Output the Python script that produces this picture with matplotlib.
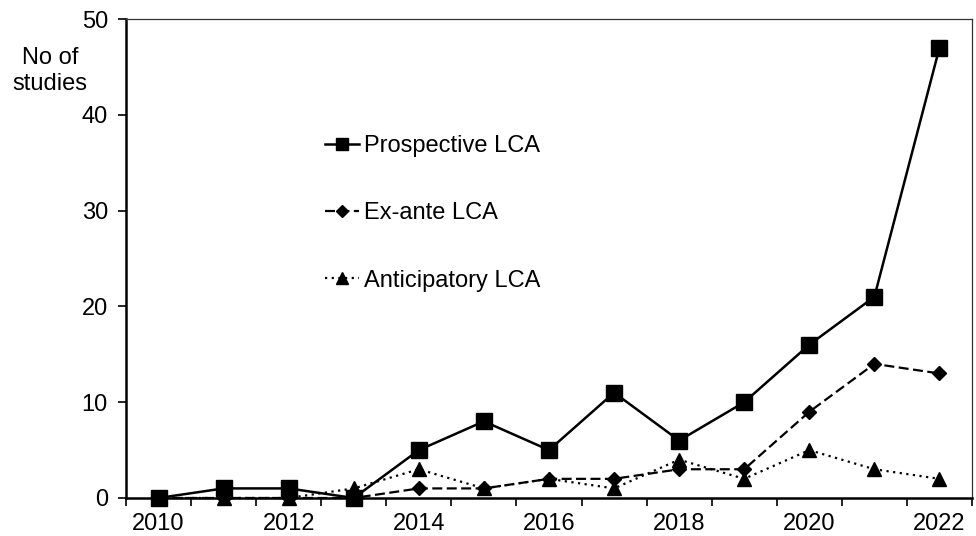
import matplotlib.pyplot as plt
import numpy as np

plt.rcParams['font.family'] = ['Liberation Sans', 'DejaVu Sans']

years = [2010, 2011, 2012, 2013, 2014, 2015, 2016, 2017, 2018, 2019, 2020, 2021, 2022]
prospective = [0, 1, 1, 0, 5, 8, 5, 11, 6, 10, 16, 21, 47]
ex_ante = [0, 0, 0, 0, 1, 1, 2, 2, 3, 3, 9, 14, 13]
anticipatory = [0, 0, 0, 1, 3, 1, 2, 1, 4, 2, 5, 3, 2]
y_ticks = [0, 10, 20, 30, 40, 50]

fs = 17

fig = plt.figure(figsize=(9.76, 5.36), dpi=100)
ax = fig.add_axes([126 / 976, 1 - 498 / 536, (972 - 126) / 976, (498 - 19) / 536])

x = np.arange(len(years))
ax.plot(x, prospective, color='black', lw=1.8, marker='s', ms=11,
        label='Prospective LCA', clip_on=False, zorder=5)
ax.plot(x, ex_ante, color='black', lw=1.6, ls=(0, (4.5, 2)), marker='D', ms=7.5,
        label='Ex-ante LCA', clip_on=False, zorder=4)
ax.plot(x, anticipatory, color='black', lw=1.6, ls=(0, (1, 2)), marker='^', ms=9.5,
        label='Anticipatory LCA', clip_on=False, zorder=3)

ax.set_xlim(-0.5, len(years) - 0.5)
ax.set_ylim(0, 50)
ax.set_yticks(y_ticks)

# category axis: marks between categories, labels every second year
ax.set_xticks(x[::2])
ax.set_xticklabels([str(y) for y in years[::2]])
ax.set_xticks(np.arange(-0.5, len(years)), minor=True)
ax.tick_params(axis='x', which='major', length=0, pad=11, labelsize=fs)
ax.tick_params(axis='x', which='minor', length=6, width=1.2, direction='out')
ax.tick_params(axis='y', length=6, width=1.2, direction='out', pad=7, labelsize=fs)

for s in ['left', 'bottom']:
    ax.spines[s].set_linewidth(1.8)
for s in ['top', 'right']:
    ax.spines[s].set_linewidth(0.9)
    ax.spines[s].set_color('#333333')

fig.text(50 / 976, 1 - 71 / 536, 'No of\nstudies', ha='center', va='center',
         fontsize=fs, linespacing=1.25)

ax.legend(loc='upper left', bbox_to_anchor=(325 / 976, 1 - 135 / 536),
          bbox_transform=fig.transFigure, frameon=False, fontsize=fs,
          handlelength=1.45, handletextpad=0.2, labelspacing=1.92,
          borderpad=0, borderaxespad=0, markerscale=0.85)

fig.savefig('out.png', dpi=100)
